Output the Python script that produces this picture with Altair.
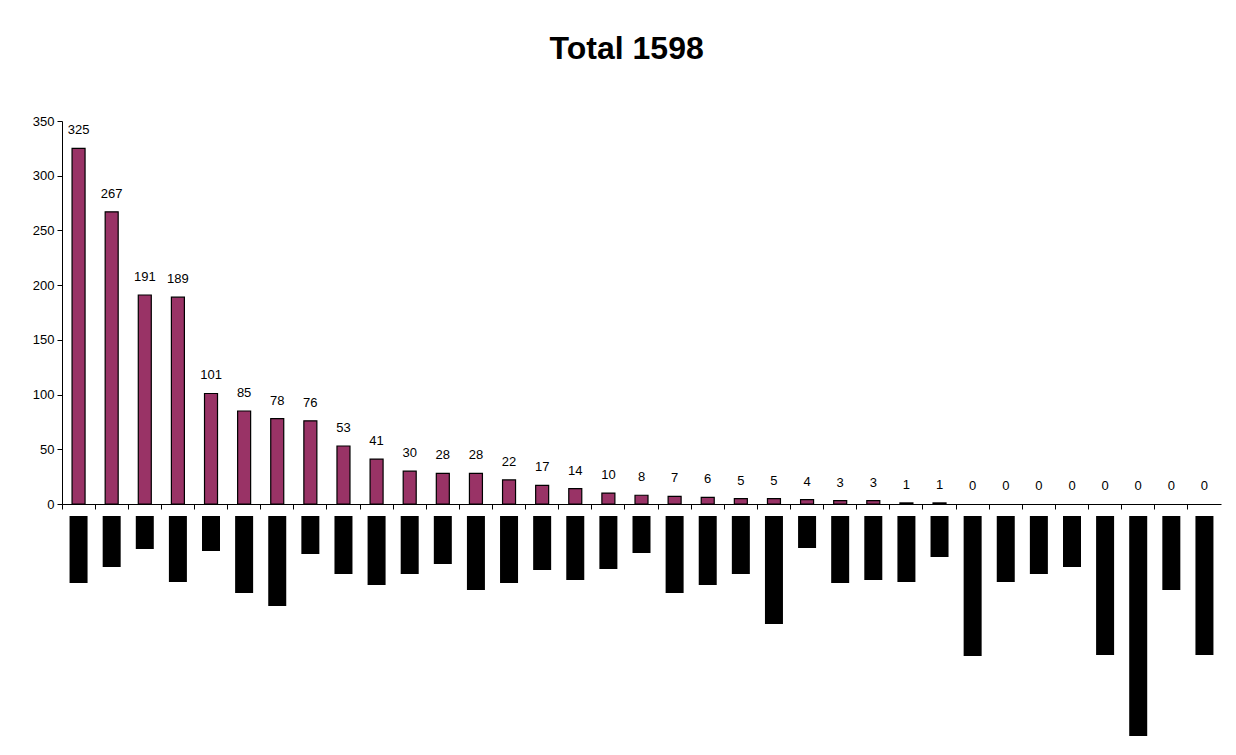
import altair as alt
import pandas as pd

# Category names are redacted in the reference (shown as black blocks)
categories = [f"C{i:02d}" for i in range(1, 36)]
counts = [325, 267, 191, 189, 101, 85, 78, 76, 53, 41, 30, 28, 28, 22, 17, 14,
          10, 8, 7, 6, 5, 5, 4, 3, 3, 1, 1, 0, 0, 0, 0, 0, 0, 0, 0]
# lengths of the redacted (blacked-out) category labels below the axis
label_blocks = [67, 51, 33, 66, 35, 77, 90, 38, 58, 69, 58, 48, 74, 67, 54, 64, 53, 37,
                77, 69, 58, 108, 32, 67, 64, 66, 41, 140, 66, 58, 51, 139, 220, 74, 139]
y_ticks = [0, 50, 100, 150, 200, 250, 300, 350]

df = pd.DataFrame({"cat": categories, "count": counts, "block": label_blocks})

FONT = "Liberation Sans"
W = 1159

x_top = alt.X(
    "cat:N", sort=None,
    scale=alt.Scale(paddingInner=0, paddingOuter=0),
    axis=alt.Axis(labels=False, title=None, bandPosition=0, tickSize=5,
                  domainColor="black", tickColor="black", grid=False),
)

bars = alt.Chart(df).mark_bar(
    width=13, color="#993366", stroke="black"
).encode(
    x=x_top,
    y=alt.Y("count:Q", scale=alt.Scale(domain=[0, 350], nice=False),
            axis=alt.Axis(values=y_ticks, title=None, grid=False, tickSize=5,
                          labelPadding=3, domainColor="black", tickColor="black",
                          labelFont=FONT, labelFontSize=13, labelColor="black")),
    strokeWidth=alt.condition(alt.datum.count > 0, alt.value(1.2), alt.value(0)),
)

labels = alt.Chart(df).mark_text(
    dy=-18, baseline="middle", font=FONT, fontSize=13, color="black"
).encode(
    x=alt.X("cat:N", sort=None),
    y=alt.Y("count:Q"),
    text=alt.Text("count:Q"),
)

top = alt.layer(bars, labels).properties(width=W, height=383)

bottom = alt.Chart(df).mark_bar(width=18, color="black").encode(
    x=alt.X("cat:N", sort=None, scale=alt.Scale(paddingInner=0, paddingOuter=0), axis=None),
    y=alt.Y("block:Q", scale=alt.Scale(domain=[0, 220], reverse=True, nice=False), axis=None),
).properties(width=W, height=220)

chart = alt.vconcat(top, bottom, spacing=5).properties(
    title=alt.TitleParams("Total 1598", font=FONT, fontSize=32, fontWeight="bold",
                          color="black", anchor="middle", offset=49),
    padding={"left": 24, "top": 25, "right": 6, "bottom": 5},
    background="white",
).configure_view(stroke=None)

chart.save("out.html", embed_options={"renderer": "svg", "actions": False})
